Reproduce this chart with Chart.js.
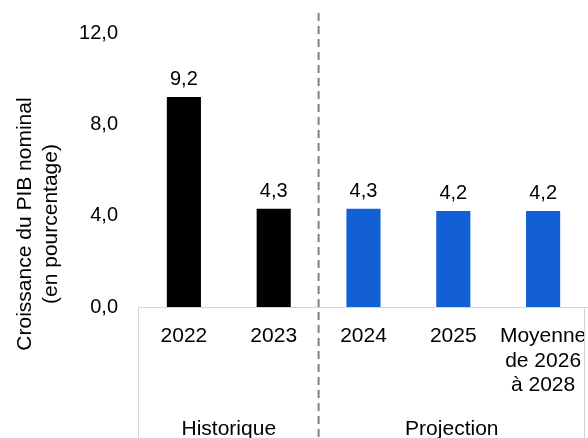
<!DOCTYPE html>
<html>
<head>
<meta charset="utf-8">
<script src="https://cdn.jsdelivr.net/npm/chart.js@4.4.1/dist/chart.umd.min.js"></script>
<style>
  html, body { margin: 0; padding: 0; background: #fff; }
  #wrap { width: 588px; height: 438px; position: relative; }
</style>
</head>
<body>
<div id="wrap"><canvas id="chart"></canvas></div>
<script>
// data
const categories = ['2022', '2023', '2024', '2025', ['Moyenne', 'de 2026', 'à 2028']];
const growth = [9.2, 4.3, 4.3, 4.2, 4.2];
const barColors = ['#000000', '#000000', '#125fd6', '#125fd6', '#125fd6'];
const groups = [
    { label: 'Historique', from: 0, to: 1 },
    { label: 'Projection', from: 2, to: 4 }
];
const yTicks = [0, 4, 8, 12];
const yTitle = ['Croissance du PIB nominal', '(en pourcentage)'];

const FONT = '"Liberation Sans", Arial, sans-serif';
const fmt = v => v.toFixed(1).replace('.', ',');

// value labels, group separators, group names and the y title
const extras = {
    id: 'extras',
    afterDraw(chart) {
        const { ctx, chartArea } = chart;
        const x = chart.scales.x;
        const H = chart.height;
        const edges = [chartArea.left];
        groups.forEach((g, i) => {
            if (i < groups.length - 1) {
                edges.push((x.getPixelForValue(g.to) + x.getPixelForValue(g.to + 1)) / 2);
            }
        });
        edges.push(chartArea.right - 3);

        ctx.save();
        // bar value labels
        ctx.fillStyle = '#000';
        ctx.font = '20px ' + FONT;
        ctx.textAlign = 'center';
        ctx.textBaseline = 'alphabetic';
        chart.getDatasetMeta(0).data.forEach((bar, i) => {
            ctx.fillText(fmt(growth[i]), bar.x, bar.y - 12);
        });

        // outer separators under the axis
        ctx.strokeStyle = '#d4d4d4';
        ctx.lineWidth = 1;
        [edges[0], edges[edges.length - 1]].forEach(px => {
            ctx.beginPath();
            ctx.moveTo(Math.round(px) - 0.5, chartArea.bottom);
            ctx.lineTo(Math.round(px) - 0.5, H);
            ctx.stroke();
        });

        // dashed separators between groups
        ctx.strokeStyle = '#7f7f7f';
        ctx.lineWidth = 2;
        ctx.setLineDash([8, 5]);
        edges.slice(1, -1).forEach(px => {
            ctx.beginPath();
            ctx.moveTo(px, 13);
            ctx.lineTo(px, H);
            ctx.stroke();
        });
        ctx.setLineDash([]);

        // group names
        ctx.fillStyle = '#000';
        ctx.font = '21px ' + FONT;
        ctx.textBaseline = 'middle';
        groups.forEach((g, i) => {
            ctx.fillText(g.label, (edges[i] + edges[i + 1]) / 2, 429);
        });

        // y axis title
        ctx.translate(38, 224);
        ctx.rotate(-Math.PI / 2);
        ctx.fillText(yTitle[0], 0, -13);
        ctx.fillText(yTitle[1], 0, 13);
        ctx.restore();
    }
};

new Chart(document.getElementById('chart'), {
    type: 'bar',
    data: {
        labels: categories,
        datasets: [{
            data: growth,
            backgroundColor: barColors,
            categoryPercentage: 1,
            barPercentage: 0.38
        }]
    },
    options: {
        responsive: true,
        maintainAspectRatio: false,
        animation: false,
        layout: { padding: { top: 26, right: 0, bottom: 0, left: 0 } },
        scales: {
            x: {
                grid: { display: false, drawTicks: false },
                border: { display: true, color: '#d4d4d4', width: 1 },
                ticks: {
                    color: '#000',
                    font: { family: FONT, size: 21, lineHeight: 1.17 },
                    padding: 17,
                    maxRotation: 0,
                    autoSkip: false
                },
                afterFit: s => {
                    s.height = 131;
                    s.paddingLeft = 0;
                    s.paddingRight = 0;
                }
            },
            y: {
                min: 0,
                max: 12,
                grid: { display: false, drawTicks: false },
                border: { display: false },
                afterBuildTicks: s => { s.ticks = yTicks.map(v => ({ value: v })); },
                afterFit: s => { s.width = 139; },
                ticks: {
                    color: '#000',
                    font: { family: FONT, size: 20 },
                    padding: 21,
                    callback: v => fmt(v)
                }
            }
        },
        plugins: {
            legend: { display: false },
            tooltip: { enabled: false }
        }
    },
    plugins: [extras]
});
</script>
</body>
</html>
